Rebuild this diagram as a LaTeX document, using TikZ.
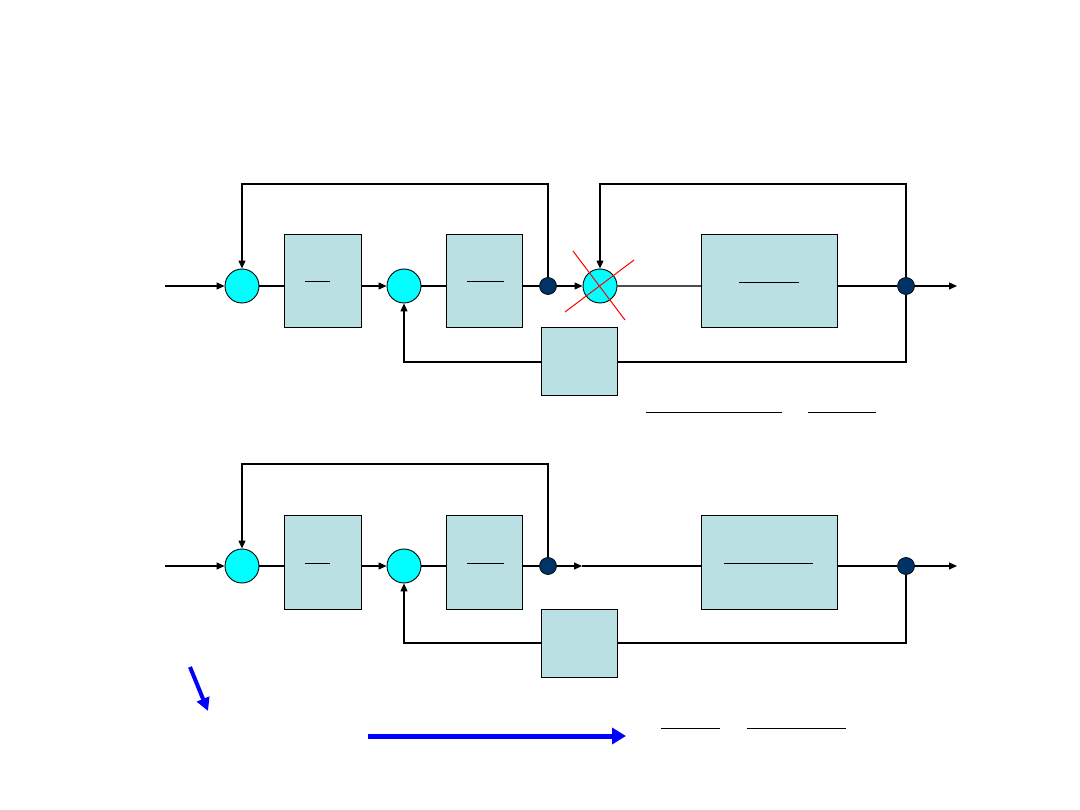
\documentclass[tikz,border=0pt]{standalone}
\usetikzlibrary{arrows.meta}
\definecolor{sumcyan}{RGB}{0,255,255}
\definecolor{dotblue}{RGB}{0,51,102}
\definecolor{boxfill}{RGB}{187,224,227}
\definecolor{purebl}{RGB}{0,0,255}
\definecolor{purered}{RGB}{255,0,0}
\begin{document}
\begin{tikzpicture}[x=1pt,y=-1pt,
  wire/.style={line width=1.2pt,black},
  arr/.style={wire,-{Triangle[length=8pt,width=7pt]}},
  sumnode/.style={circle,draw=black,line width=0.9pt,fill=sumcyan,minimum size=34pt,inner sep=0pt},
  dotnode/.style={circle,draw=black,line width=0.7pt,fill=dotblue,minimum size=17pt,inner sep=0pt},
  blockbox/.style={rectangle,draw=black,line width=1pt,fill=boxfill,inner sep=0pt},
  bar/.style={line width=1pt,black},
  bluearr/.style={draw=purebl,line width=4pt,-{Triangle[length=13pt,width=13pt]}}
]
\useasboundingbox (0,0) rectangle (1080,810);
\fill[white] (0,0) rectangle (1080,810);

% ===== top diagram =====
\coordinate (in1) at (165,286);
\node[sumnode] (s1) at (242,286) {};
\node[blockbox,minimum width=77pt,minimum height=93pt] (b1) at (322.5,281.5) {};
\node[sumnode] (s2) at (404,286) {};
\node[blockbox,minimum width=76pt,minimum height=93pt] (b2) at (484,281.5) {};
\node[dotnode] (d1) at (548,286) {};
\node[sumnode] (s3) at (600,286) {};
\node[blockbox,minimum width=136pt,minimum height=93pt] (b3) at (769,281.5) {};
\node[dotnode] (d3) at (906,286) {};
\coordinate (out1) at (957,286);
\node[blockbox,minimum width=76pt,minimum height=68pt] (h1) at (579,362) {};

\draw[arr] (in1) -- (s1.west);
\draw[wire] (s1.east) -- (b1.west |- s1.east);
\draw[arr] (b1.east |- s2.west) -- (s2.west);
\draw[wire] (s2.east) -- (b2.west |- s2.east);
\draw[wire] (b2.east |- d1.west) -- (d1.west);
\draw[arr] (d1.east) -- (s3.west);
\draw[wire,gray!60!black] (s3.east) -- (b3.west |- s3.east);
\draw[wire] (b3.east |- d3.west) -- (d3.west);
\draw[arr] (d3.east) -- (out1);
\draw[arr] (d1.north) -- (548,184) -| (s1.north);
\draw[arr] (d3.north) -- (906,184) -| (s3.north);
\draw[wire] (d3.south) -- (906,362) -- (h1.east);
\draw[arr] (h1.west) -| (s2.south);

\draw[bar] (305,282) -- (330,282);
\draw[bar] (467,282) -- (504,282);
\draw[bar] (739,283) -- (799,283);

\draw[purered,line width=1pt] (573,251) -- (625,320);
\draw[purered,line width=1pt] (565,312) -- (634,260);

\draw[bar] (646,413) -- (782,413);
\draw[bar] (808,413) -- (876,413);

% ===== bottom diagram =====
\coordinate (in2) at (165,566);
\node[sumnode] (t1) at (242,566) {};
\node[blockbox,minimum width=77pt,minimum height=94pt] (c1) at (322.5,562) {};
\node[sumnode] (t2) at (404,566) {};
\node[blockbox,minimum width=76pt,minimum height=94pt] (c2) at (484,562) {};
\node[dotnode] (e1) at (548,566) {};
\coordinate (m2) at (582,566);
\node[blockbox,minimum width=136pt,minimum height=94pt] (c3) at (769,562) {};
\node[dotnode] (e3) at (906,566) {};
\coordinate (out2) at (957,566);
\node[blockbox,minimum width=76pt,minimum height=68pt] (h2) at (579,643) {};

\draw[arr] (in2) -- (t1.west);
\draw[wire] (t1.east) -- (c1.west |- t1.east);
\draw[arr] (c1.east |- t2.west) -- (t2.west);
\draw[wire] (t2.east) -- (c2.west |- t2.east);
\draw[wire] (c2.east |- e1.west) -- (e1.west);
\draw[arr] (e1.east) -- (m2);
\draw[wire] (m2) -- (c3.west |- m2);
\draw[wire] (c3.east |- e3.west) -- (e3.west);
\draw[arr] (e3.east) -- (out2);
\draw[arr] (e1.north) -- (548,464) -| (t1.north);
\draw[wire,line width=1.8pt] (e3.south) -- (906,643) -- (h2.east);
\draw[arr] (h2.west) -| (t2.south);

\draw[bar] (305,563) -- (330,563);
\draw[bar] (467,563) -- (504,563);
\draw[bar] (724,563) -- (813,563);

% ===== blue arrows and bottom bars =====
\coordinate (ba1) at (190,667);
\coordinate (ba2) at (208,711);
\draw[bluearr] (ba1) -- (ba2);
\coordinate (bb1) at (368,736);
\coordinate (bb2) at (626,736);
\draw[bluearr,line width=5pt,-{Triangle[length=14pt,width=16pt]}] (bb1) -- (bb2);

\draw[bar] (661,728) -- (720,728);
\draw[bar] (747,728) -- (846,728);
\end{tikzpicture}
\end{document}
